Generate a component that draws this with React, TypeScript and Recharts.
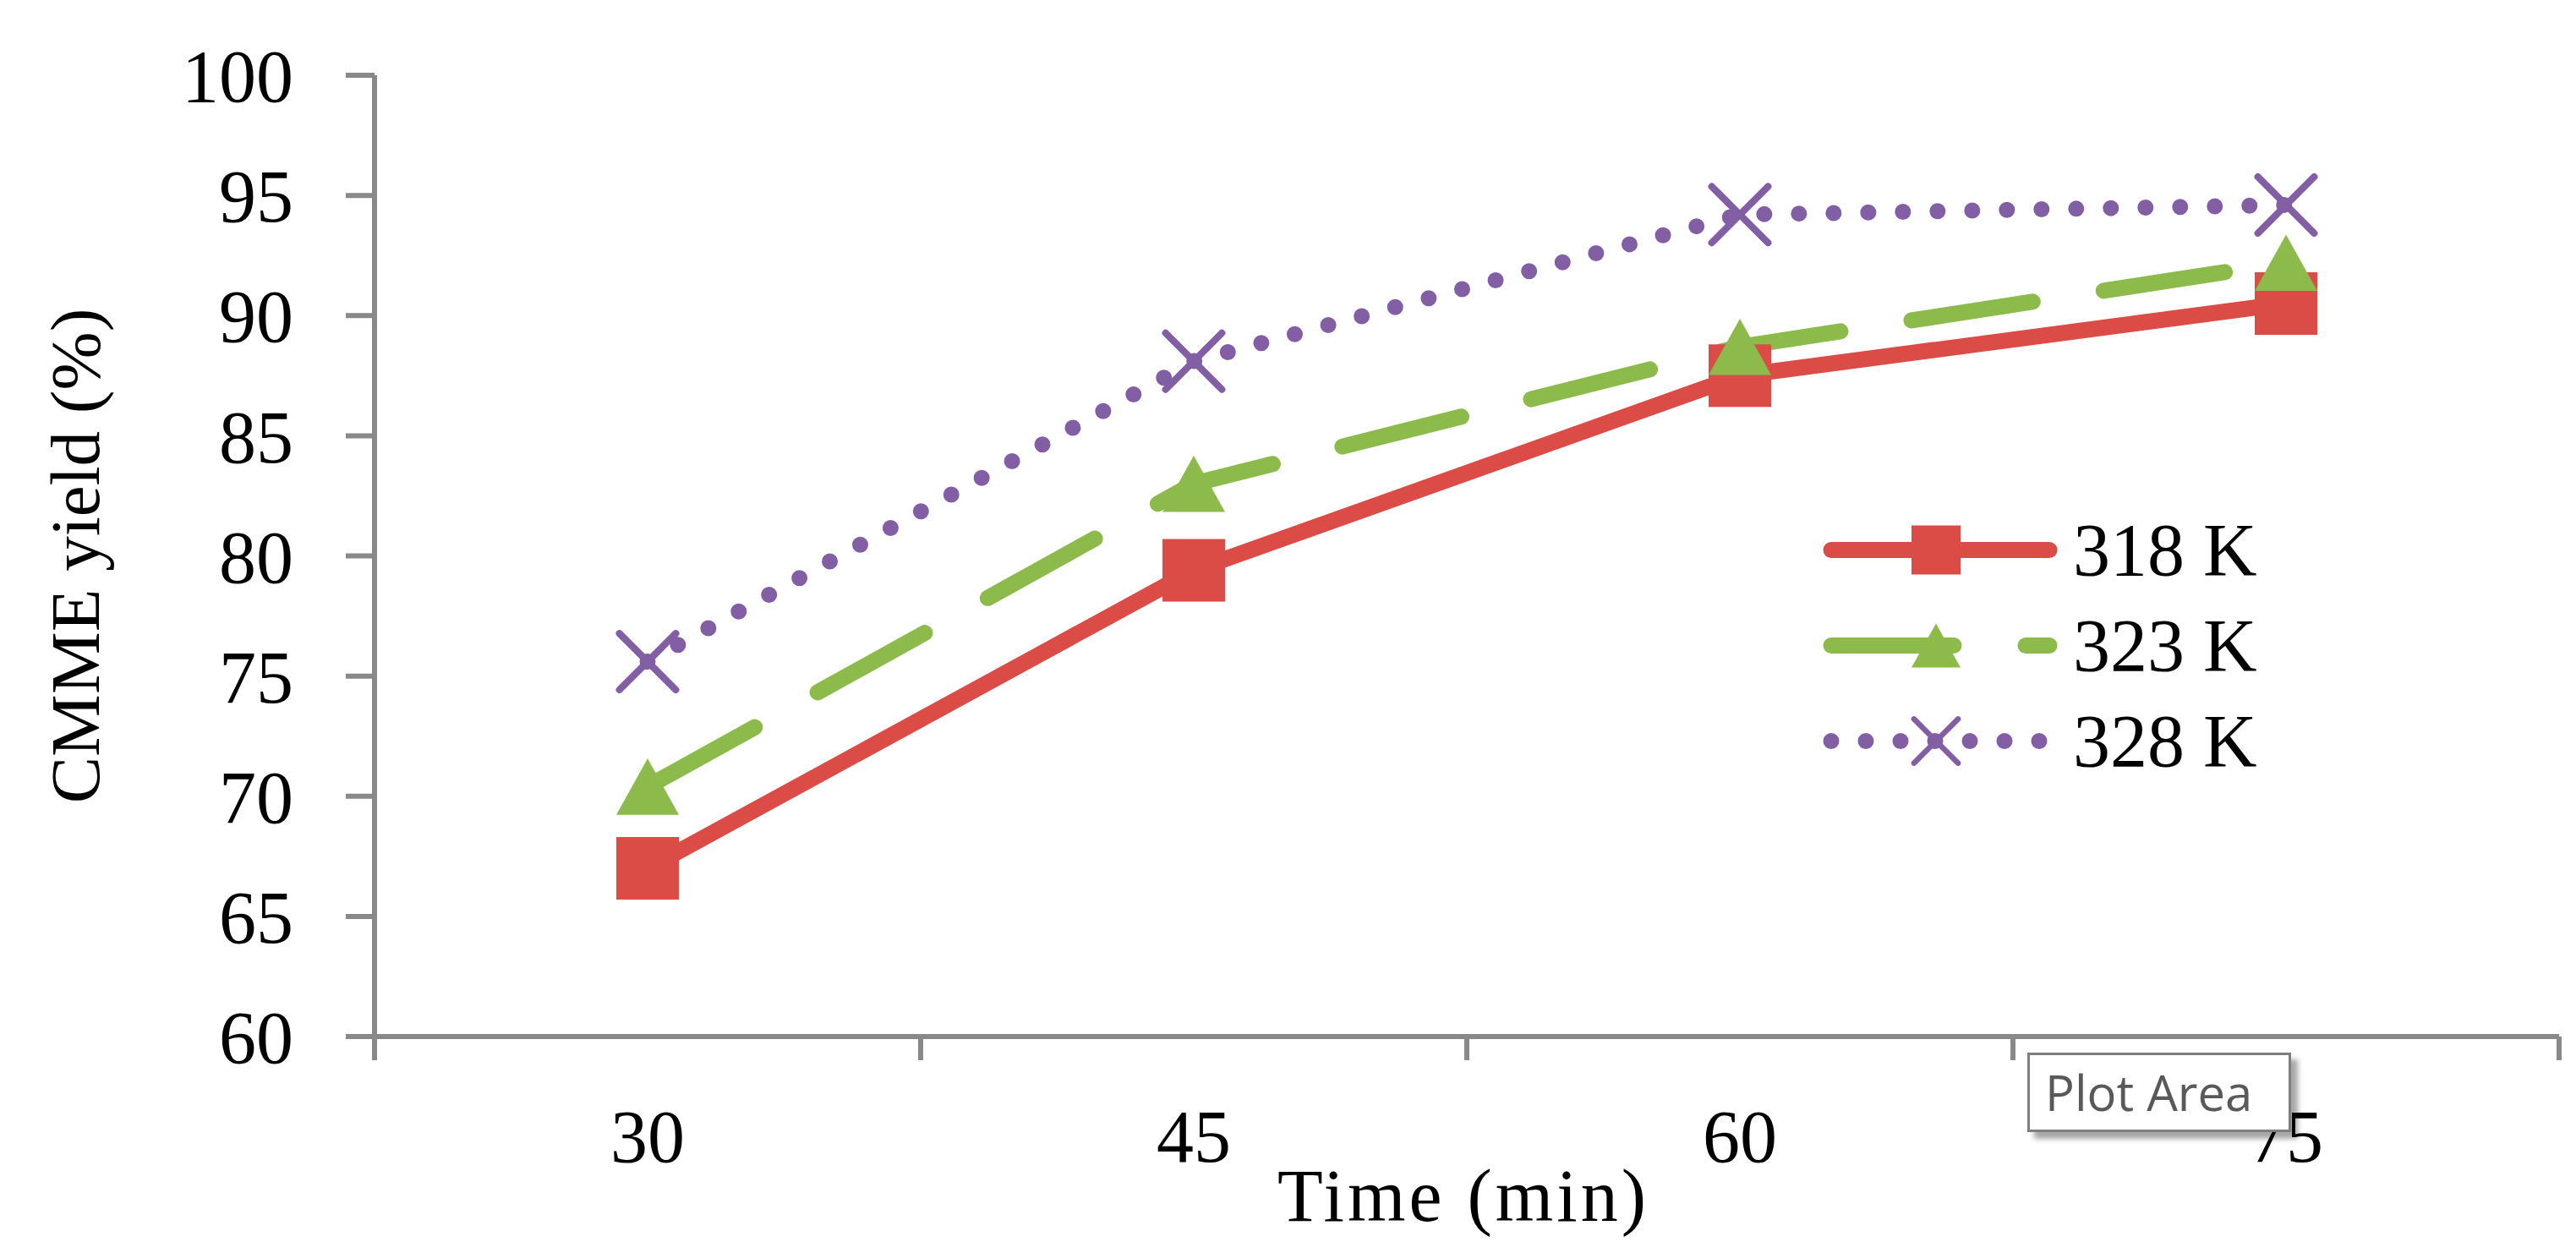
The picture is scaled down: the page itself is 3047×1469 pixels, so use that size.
import React from "react";
import { LineChart, Line, XAxis, YAxis, Legend } from "recharts";

const times = ["30", "45", "60", "75"];
const yield318 = [67.0, 79.4, 87.5, 90.5];
const yield323 = [70.4, 83.0, 88.7, 92.2];
const yield328 = [75.6, 88.1, 94.2, 94.6];
const yTicks = [60, 65, 70, 75, 80, 85, 90, 95, 100];
const bandEdges = [0, 1, 2, 3, 4];

const data = times.map((t, i) => ({
  time: t,
  k318: yield318[i],
  k323: yield323[i],
  k328: yield328[i],
}));

const W = 3039;
const H = 1461;
const FONT = "'Liberation Serif', serif";
const AXIS = "#898989";

type Shape = "square" | "triangle" | "cross";

const series: { key: string; name: string; color: string; dash?: string; shape: Shape }[] = [
  { key: "k318", name: "318 K", color: "#DC4C47", shape: "square" },
  { key: "k323", name: "323 K", color: "#8CBB4B", dash: "145 85", shape: "triangle" },
  { key: "k328", name: "328 K", color: "#825EA5", dash: "0 41", shape: "cross" },
];

// Excel-like markers: square, triangle, cross
function Marker({ shape, cx, cy, color, size }: { shape: Shape; cx: number; cy: number; color: string; size: number }) {
  const h = size / 2;
  if (shape === "square") {
    return <rect x={cx - h} y={cy - h} width={size} height={size} fill={color} />;
  }
  if (shape === "triangle") {
    const v = h * 0.9;
    return <polygon points={`${cx},${cy - v} ${cx + h},${cy + v} ${cx - h},${cy + v}`} fill={color} />;
  }
  const c = h * 0.9;
  return (
    <g stroke={color} strokeWidth={size / 9} strokeLinecap="round">
      <line x1={cx - c} y1={cy - c} x2={cx + c} y2={cy + c} />
      <line x1={cx - c} y1={cy + c} x2={cx + c} y2={cy - c} />
    </g>
  );
}

const renderLegend = () => (
  <div style={{ fontFamily: FONT, fontSize: 88, color: "#000" }}>
    {series.map((s) => (
      <div key={s.key} style={{ display: "flex", alignItems: "center", height: 113 }}>
        <svg width={296} height={113} style={{ display: "block" }}>
          <line
            x1={20}
            x2={278}
            y1={56.5}
            y2={56.5}
            stroke={s.color}
            strokeWidth={19}
            strokeLinecap="round"
            strokeDasharray={s.dash}
          />
          <Marker shape={s.shape} cx={144} cy={56.5} color={s.color} size={58} />
        </svg>
        <span style={{ marginLeft: 10, lineHeight: 1, whiteSpace: "nowrap" }}>{s.name}</span>
      </div>
    ))}
  </div>
);

export default function App() {
  return (
    <div style={{ position: "absolute", left: 8, top: 8, width: W, height: H }}>
      <LineChart width={W} height={H} data={data} margin={{ top: 81, right: 20, bottom: 0, left: 0 }}>
        <XAxis
          xAxisId="b"
          dataKey="time"
          scale="band"
          height={213}
          interval={0}
          axisLine={false}
          tickLine={false}
          tickSize={0}
          tickMargin={56}
          tick={{ fill: "#000", fontSize: 88, fontFamily: FONT }}
          label={{
            content: ({ viewBox }: any) => (
              <text
                x={viewBox.x + viewBox.width / 2 - 4}
                y={viewBox.y + 188}
                textAnchor="middle"
                fontFamily={FONT}
                fontSize={88}
                letterSpacing={4}
                fill="#000"
              >
                Time (min)
              </text>
            ),
          }}
        />
        {/* frame axis: axis line with ticks on the category boundaries */}
        <XAxis
          xAxisId="a"
          type="number"
          dataKey="edge"
          domain={[0, 4]}
          ticks={bandEdges}
          allowDataOverflow
          interval={0}
          height={30}
          tickFormatter={() => ""}
          tickSize={28}
          axisLine={{ stroke: AXIS, strokeWidth: 6 }}
          tickLine={{ stroke: AXIS, strokeWidth: 6 }}
        />
        <YAxis
          width={435}
          domain={[60, 100]}
          ticks={yTicks}
          interval={0}
          tickSize={34}
          tickMargin={62}
          axisLine={{ stroke: AXIS, strokeWidth: 6 }}
          tickLine={{ stroke: AXIS, strokeWidth: 6 }}
          tick={{ fill: "#000", fontSize: 88, fontFamily: FONT }}
          label={{
            content: ({ viewBox }: any) => {
              const cy = viewBox.y + viewBox.height / 2;
              return (
                <text
                  x={109}
                  y={cy}
                  transform={`rotate(-90 109 ${cy})`}
                  textAnchor="middle"
                  fontFamily={FONT}
                  fontSize={83}
                  fill="#000"
                >
                  CMME yield (%)
                </text>
              );
            },
          }}
        />
        <Legend
          layout="vertical"
          align="center"
          verticalAlign="middle"
          content={renderLegend}
          wrapperStyle={{ left: 2138, top: 586, width: 560, height: 339 }}
        />
        {series.map((s) => (
          <Line
            key={s.key}
            xAxisId="b"
            type="linear"
            dataKey={s.key}
            name={s.name}
            stroke={s.color}
            strokeWidth={19}
            strokeLinecap="round"
            strokeDasharray={s.dash}
            isAnimationActive={false}
            dot={(p: any) => (
              <Marker key={`${s.key}-${p.index}`} shape={s.shape} cx={p.cx} cy={p.cy} color={s.color} size={74} />
            )}
            activeDot={false}
          />
        ))}
      </LineChart>
      <div
        style={{
          position: "absolute",
          left: 2390,
          top: 1237,
          width: 312,
          height: 94,
          border: "3px solid #7f7f7f",
          background: "#fff",
          boxShadow: "8px 8px 6px rgba(0,0,0,0.35)",
          fontFamily: "'Open Sans', sans-serif",
          fontSize: 58,
          color: "#595959",
          lineHeight: "88px",
          paddingLeft: 18,
          boxSizing: "border-box",
          whiteSpace: "nowrap",
        }}
      >
        Plot Area
      </div>
    </div>
  );
}
